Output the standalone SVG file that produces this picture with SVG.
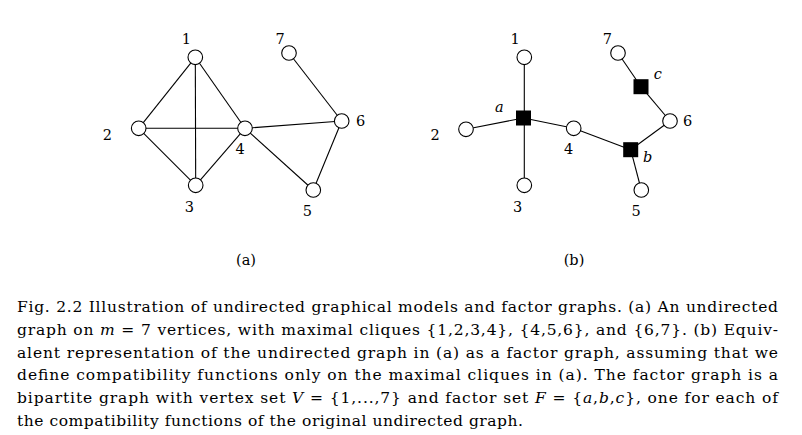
<svg xmlns="http://www.w3.org/2000/svg" width="802" height="435" viewBox="0 0 802 435">
<style>
.v{fill:#fff;stroke:#000;stroke-width:1.1}
.f{fill:#000;stroke:none}
.e{stroke:#000;stroke-width:1.1;fill:none}
.lb{font-family:"DejaVu Serif","Liberation Serif",serif;font-size:14.5px;fill:#000}
.it{font-style:italic}
.cap{font-family:"DejaVu Serif","Liberation Serif",serif;font-size:15.5px;fill:#000}
</style>
<rect width="802" height="435" fill="#fff"/>
<g id="connectors">
<line class="e" x1="195.3" y1="57.3" x2="138.7" y2="128.3"/>
<line class="e" x1="195.3" y1="57.3" x2="195.7" y2="185.3"/>
<line class="e" x1="195.3" y1="57.3" x2="245" y2="128.3"/>
<line class="e" x1="138.7" y1="128.3" x2="245" y2="128.3"/>
<line class="e" x1="138.7" y1="128.3" x2="195.7" y2="185.3"/>
<line class="e" x1="195.7" y1="185.3" x2="245" y2="128.3"/>
<line class="e" x1="245" y1="128.3" x2="341.7" y2="121"/>
<line class="e" x1="245" y1="128.3" x2="313.3" y2="190"/>
<line class="e" x1="341.7" y1="121" x2="313.3" y2="190"/>
<line class="e" x1="289" y1="53" x2="341.7" y2="121"/>
<line class="e" x1="524.3" y1="57.3" x2="524.3" y2="185.3"/>
<line class="e" x1="466" y1="129.3" x2="523.5" y2="118"/>
<line class="e" x1="523.5" y1="118" x2="573.7" y2="128.3"/>
<line class="e" x1="573.7" y1="128.3" x2="630.7" y2="149.7"/>
<line class="e" x1="630.7" y1="149.7" x2="641.3" y2="190"/>
<line class="e" x1="630.7" y1="149.7" x2="670" y2="121"/>
<line class="e" x1="670" y1="121" x2="641" y2="86.7"/>
<line class="e" x1="641" y1="86.7" x2="618" y2="53"/>
</g>
<g id="a1"><circle class="v" cx="195.3" cy="57.3" r="7.3"/><text class="lb" x="186.3" y="43.5" text-anchor="middle">1</text></g>
<g id="a2"><circle class="v" cx="138.7" cy="128.3" r="7.3"/><text class="lb" x="107.3" y="140" text-anchor="middle">2</text></g>
<g id="a3"><circle class="v" cx="195.7" cy="185.3" r="7.3"/><text class="lb" x="189.3" y="212" text-anchor="middle">3</text></g>
<g id="a4"><circle class="v" cx="245" cy="128.3" r="7.3"/><text class="lb" x="240" y="153.5" text-anchor="middle">4</text></g>
<g id="a5"><circle class="v" cx="313.3" cy="190" r="7.3"/><text class="lb" x="307.3" y="215.5" text-anchor="middle">5</text></g>
<g id="a6"><circle class="v" cx="341.7" cy="121" r="7.3"/><text class="lb" x="360.7" y="125.5" text-anchor="middle">6</text></g>
<g id="a7"><circle class="v" cx="289" cy="53" r="7.3"/><text class="lb" x="280" y="43.5" text-anchor="middle">7</text></g>
<g id="capa"><text class="lb" x="246" y="265" text-anchor="middle">(a)</text></g>
<g id="b1"><circle class="v" cx="524.3" cy="57.3" r="7.3"/><text class="lb" x="515" y="43.5" text-anchor="middle">1</text></g>
<g id="b2"><circle class="v" cx="466" cy="129.3" r="7.3"/><text class="lb" x="435" y="140" text-anchor="middle">2</text></g>
<g id="b3"><circle class="v" cx="524.3" cy="185.3" r="7.3"/><text class="lb" x="517.7" y="212" text-anchor="middle">3</text></g>
<g id="b4"><circle class="v" cx="573.7" cy="128.3" r="7.3"/><text class="lb" x="568.7" y="153.5" text-anchor="middle">4</text></g>
<g id="b5"><circle class="v" cx="641.3" cy="190" r="7.3"/><text class="lb" x="636" y="215.5" text-anchor="middle">5</text></g>
<g id="b6"><circle class="v" cx="670" cy="121" r="7.3"/><text class="lb" x="687.7" y="125.5" text-anchor="middle">6</text></g>
<g id="b7"><circle class="v" cx="618" cy="53" r="7.3"/><text class="lb" x="607.3" y="43.5" text-anchor="middle">7</text></g>
<g id="fa"><rect class="f" x="516" y="110.5" width="15" height="15"/><text class="lb it" x="499.3" y="111.5" text-anchor="middle">a</text></g>
<g id="fb"><rect class="f" x="623.2" y="142.2" width="15" height="15"/><text class="lb it" x="647.7" y="161.5" text-anchor="middle">b</text></g>
<g id="fc"><rect class="f" x="633.5" y="79.2" width="15" height="15"/><text class="lb it" x="657.7" y="79" text-anchor="middle">c</text></g>
<g id="capb"><text class="lb" x="574" y="265" text-anchor="middle">(b)</text></g>
<g id="caption">
<text class="cap" x="17" y="312.3" textLength="761" lengthAdjust="spacing">Fig. 2.2 Illustration of undirected graphical models and factor graphs. (a) An undirected</text>
<text class="cap" x="17" y="335" textLength="761" lengthAdjust="spacing">graph on <tspan class="it">m</tspan> = 7 vertices, with maximal cliques {1,2,3,4}, {4,5,6}, and {6,7}. (b) Equiv-</text>
<text class="cap" x="17" y="357.5" textLength="761" lengthAdjust="spacing">alent representation of the undirected graph in (a) as a factor graph, assuming that we</text>
<text class="cap" x="17" y="380.2" textLength="761" lengthAdjust="spacing">define compatibility functions only on the maximal cliques in (a). The factor graph is a</text>
<text class="cap" x="17" y="402.8" textLength="761" lengthAdjust="spacing">bipartite graph with vertex set <tspan class="it">V</tspan> = {1,...,7} and factor set <tspan class="it">F</tspan> = {<tspan class="it">a</tspan>,<tspan class="it">b</tspan>,<tspan class="it">c</tspan>}, one for each of</text>
<text class="cap" x="17" y="425.5" textLength="506" lengthAdjust="spacing">the compatibility functions of the original undirected graph.</text>
</g>
</svg>
